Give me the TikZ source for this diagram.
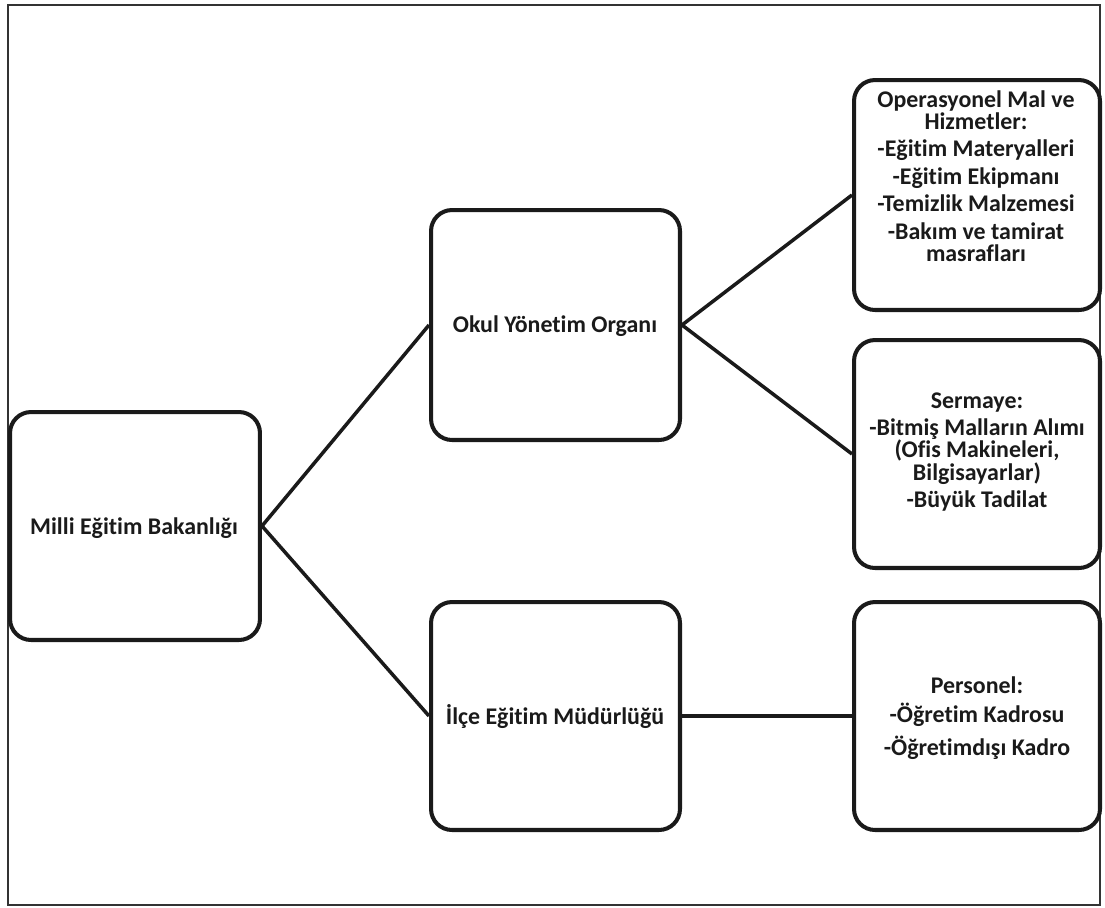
\documentclass[tikz,border=0pt]{standalone}
\usepackage{fontspec}
\setmainfont{Carlito}[Ligatures=NoCommon]
\definecolor{ink}{HTML}{1A1A1A}
\definecolor{framec}{HTML}{333333}
\begin{document}
\begin{tikzpicture}[x=0.02cm,y=-0.02cm,
  box/.style={draw=ink, line width=2.3pt, rounded corners=0.42cm, fill=white, inner sep=0pt},
  txt/.style={align=center, text=ink, font=\bfseries\fontsize{13.6}{12.6}\selectfont, inner sep=0pt},
  link/.style={draw=ink, line width=2pt}]
\useasboundingbox (0,0) rectangle (1105,907);
\draw[framec, line width=1.3pt] (8,5) rectangle (1100,905);
% boxes
\node[box, minimum width=5cm, minimum height=4.56cm] (mil) at (135,526) {};
\node[box, minimum width=4.98cm, minimum height=4.6cm] (okul) at (555.5,325) {};
\node[box, minimum width=4.98cm, minimum height=4.56cm] (ilce) at (555.5,716) {};
\node[box, minimum width=4.92cm, minimum height=4.6cm] (oper) at (977,195) {};
\node[box, minimum width=4.92cm, minimum height=4.56cm] (serm) at (977,454) {};
\node[box, minimum width=4.92cm, minimum height=4.56cm] (pers) at (977,716) {};
% connectors
\draw[link] (mil.east) -- (okul.west);
\draw[link] (mil.east) -- (ilce.west);
\draw[link] (okul.east) -- (oper.west);
\draw[link] (okul.east) -- (serm.west);
\draw[link] (ilce.east) -- (pers.west);
% texts
\node[txt] (tmil) at (134,528) {Milli Eğitim Bakanlığı};
\node[txt] (tokul) at (555,326) {Okul Yönetim Organı};
\node[txt] (tilce) at (555,717) {İlçe Eğitim Müdürlüğü};
\node[txt] (toper) at (976,176) {Operasyonel Mal ve\\Hizmetler:\\[3pt]-Eğitim Materyalleri\\[3pt]-Eğitim Ekipmanı\\[3pt]-Temizlik Malzemesi\\[3pt]-Bakım ve tamirat\\masrafları};
\node[txt] (tserm) at (977,452) {Sermaye:\\[3pt]-Bitmiş Malların Alımı\\(Ofis Makineleri,\\Bilgisayarlar)\\[3pt]-Büyük Tadilat};
\node[txt] (tpers) at (977,718) {Personel:\\[4pt]-Öğretim Kadrosu\\[4pt]-Öğretimdışı Kadro};
\end{tikzpicture}
\end{document}
